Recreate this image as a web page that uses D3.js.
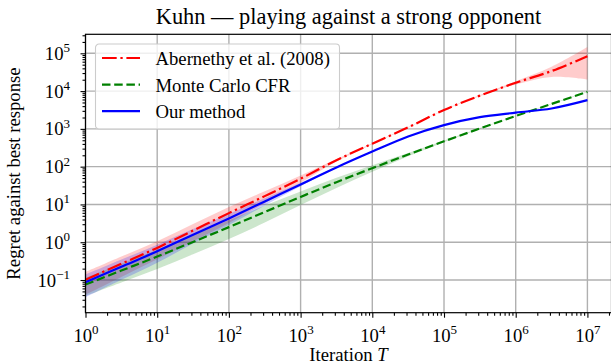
<!DOCTYPE html>
<html>
<head>
<meta charset="utf-8">
<script src="https://cdn.jsdelivr.net/npm/d3@7"></script>
<style>
  body { margin: 0; background: #fff; }
  svg text { font-family: "Liberation Serif", "Times New Roman", serif; fill: #000; }
</style>
</head>
<body>
<script>
// Iterations T (half decades) and the three methods, mean and std of the regret
var iterations = [1, 3.162, 10, 31.62, 100, 316.2, 1000, 3162, 10000, 31623, 100000, 316228, 1000000, 3162278, 10000000];

var aberMean = [0.102, 0.269, 0.708, 2.04, 5.89, 16.6, 47.9, 148, 407, 1096, 3160, 7590, 16600, 33900, 83200];
var aberSd   = [0.061, 0.148, 0.354, 0.98, 2.65, 5.8, 10.5, 11.8, 12.2, 21.9, 63, 300, 1660, 10200, 63000];

var mccfrMean = [0.0759, 0.178, 0.417, 1.02, 2.51, 6.31, 15.8, 38.9, 91.2, 209, 468, 1023, 2188, 4571, 9550];
var mccfrSd   = [0.038, 0.092, 0.22, 0.54, 1.3, 3.0, 6.2, 11.7, 18.2, 20.9, 23.4, 30, 44, 92, 191];

var oursMean = [0.087, 0.224, 0.575, 1.58, 4.27, 12.0, 33.9, 95.5, 251, 631, 1259, 2042, 2692, 3467, 5754];
var oursSd   = [0.052, 0.123, 0.288, 0.66, 1.41, 2.64, 3.39, 3.8, 5.0, 9.5, 18.9, 30.6, 40.4, 52, 115];

var seriesNames = ["Abernethy et al. (2008)", "Monte Carlo CFR", "Our method"];

// Major tick values and their exponents for labels
var xTickValues = [1, 10, 100, 1000, 10000, 100000, 1000000, 10000000];
var xTickExp = ["0", "1", "2", "3", "4", "5", "6", "7"];
var yTickValues = [0.1, 1, 10, 100, 1000, 10000, 100000];
var yTickExp = ["\u22121", "0", "1", "2", "3", "4", "5"];

var titleText = "Kuhn \u2014 playing against a strong opponent";

// Layout
var W = 611, H = 364;
var margin = {top: 34.3, left: 85.5},
    width = 611.5 - margin.left,
    height = 312.7 - margin.top;
var baseFont = 18.7;

var xScale = d3.scaleLog().domain([1, Math.pow(10, 7.336)]).range([0, width]),
    yScale = d3.scaleLog().domain([Math.pow(10, -1.865), Math.pow(10, 5.503)]).range([height, 0]);

var svg = d3.select("body").append("svg")
            .attr("width", W)
            .attr("height", H);

var g = svg.append("g")
           .attr("transform", "translate(" + margin.left + "," + margin.top + ")");

svg.append("defs")
   .append("clipPath")
   .attr("id", "clip")
   .append("rect")
   .attr("width", width)
   .attr("height", height);

// minor ticks 2..9 per decade
function minorTicks(scale) {
  var dom = scale.domain(), out = [];
  for (var k = Math.floor(Math.log10(dom[0])); k <= Math.ceil(Math.log10(dom[1])); k++) {
    for (var m = 2; m <= 9; m++) {
      var v = m * Math.pow(10, k);
      if (v >= dom[0] && v <= dom[1]) out.push(v);
    }
  }
  return out;
}

// Grid
g.append("g")
 .attr("class", "grid")
 .selectAll("line.gx")
 .data(xTickValues)
 .enter()
 .append("line")
 .attr("x1", d => xScale(d)).attr("x2", d => xScale(d))
 .attr("y1", 0).attr("y2", height)
 .attr("stroke", "#b0b0b0")
 .attr("stroke-width", 1.4);

g.append("g")
 .attr("class", "grid")
 .selectAll("line.gy")
 .data(yTickValues)
 .enter()
 .append("line")
 .attr("x1", 0).attr("x2", width)
 .attr("y1", d => yScale(d)).attr("y2", d => yScale(d))
 .attr("stroke", "#b0b0b0")
 .attr("stroke-width", 1.4);

// Series
var series = [
  {name: seriesNames[0], color: "#ff0000", dash: "14.7,3.7,2.3,3.7", mean: aberMean, sd: aberSd},
  {name: seriesNames[1], color: "#008000", dash: "8.5,3.7", mean: mccfrMean, sd: mccfrSd},
  {name: seriesNames[2], color: "#0000ff", dash: null, mean: oursMean, sd: oursSd}
];
series.forEach(s => {
  s.values = iterations.map((t, i) => ({t: t, m: s.mean[i], s: s.sd[i]}));
});

var line = d3.line()
    .x(d => xScale(d.t))
    .y(d => yScale(d.m))
    .curve(d3.curveCatmullRom.alpha(0.5));

var band = d3.area()
    .x(d => xScale(d.t))
    .y0(d => yScale(Math.max(d.m - d.s, 1e-3)))
    .y1(d => yScale(d.m + d.s))
    .curve(d3.curveCatmullRom.alpha(0.5));

var plot = g.append("g").attr("clip-path", "url(#clip)");

plot.selectAll(".band")
    .data(series)
    .enter()
    .append("path")
    .attr("class", "band")
    .attr("d", d => band(d.values))
    .attr("fill", d => d.color)
    .attr("fill-opacity", 0.2)
    .attr("stroke", "none");

plot.selectAll(".line")
    .data(series)
    .enter()
    .append("path")
    .attr("class", "line")
    .attr("d", d => line(d.values))
    .attr("fill", "none")
    .attr("stroke", d => d.color)
    .attr("stroke-width", 2.2)
    .attr("stroke-dasharray", d => d.dash);

// Axes: major + minor ticks
var xAxis = d3.axisBottom(xScale).tickValues(xTickValues).tickSize(5).tickPadding(11).tickFormat(""),
    xAxisMinor = d3.axisBottom(xScale).tickValues(minorTicks(xScale)).tickSize(3).tickFormat(""),
    yAxis = d3.axisLeft(yScale).tickValues(yTickValues).tickSize(5).tickPadding(10.5).tickFormat(""),
    yAxisMinor = d3.axisLeft(yScale).tickValues(minorTicks(yScale)).tickSize(3).tickFormat("");

function styleAxis(sel) {
  sel.select(".domain").remove();
  sel.selectAll(".tick line").attr("stroke", "#000").attr("stroke-width", 1.1);
}

var gx = g.append("g").attr("transform", "translate(0," + height + ")").call(xAxis).call(styleAxis);
g.append("g").attr("transform", "translate(0," + height + ")").call(xAxisMinor).call(styleAxis);
var gy = g.append("g").call(yAxis).call(styleAxis);
g.append("g").call(yAxisMinor).call(styleAxis);

// tick labels 10^k with superscript
function powerLabel(sel, exps) {
  sel.selectAll(".tick text")
     .each(function(d, i) {
       var t = d3.select(this);
       t.text(null)
        .attr("font-size", baseFont)
        .attr("font-family", null);
       t.append("tspan").text("10");
       t.append("tspan").attr("font-size", 13).attr("dy", -7.5).text(exps[i]);
     });
}
powerLabel(gx, xTickExp);
powerLabel(gy, yTickExp);
gx.selectAll(".tick text").attr("dy", "0.71em");

// Frame
g.append("rect")
 .attr("width", width)
 .attr("height", height)
 .attr("fill", "none")
 .attr("stroke", "#000")
 .attr("stroke-width", 1.2);

// Title and axis labels
svg.append("text")
   .attr("x", margin.left + width / 2)
   .attr("y", 24)
   .attr("text-anchor", "middle")
   .attr("font-size", 22.4)
   .text(titleText);

var xl = svg.append("text")
   .attr("x", margin.left + width / 2)
   .attr("y", 361)
   .attr("text-anchor", "middle")
   .attr("font-size", baseFont);
xl.append("tspan").text("Iteration ");
xl.append("tspan").attr("font-style", "italic").text("T");

svg.append("text")
   .attr("transform", "translate(20," + (margin.top + height / 2) + ") rotate(-90)")
   .attr("text-anchor", "middle")
   .attr("font-size", baseFont)
   .text("Regret against best response");

// Legend
var legend = svg.append("g").attr("transform", "translate(95.5,44)");
legend.append("rect")
      .attr("width", 244)
      .attr("height", 85)
      .attr("rx", 3.5)
      .attr("fill", "#fff")
      .attr("fill-opacity", 0.8)
      .attr("stroke", "#cccccc")
      .attr("stroke-width", 1.1);

var item = legend.selectAll(".item")
      .data(series)
      .enter()
      .append("g")
      .attr("class", "item")
      .attr("transform", (d, i) => "translate(0," + (14 + i * 26.6) + ")");

item.append("line")
    .attr("x1", 6.5).attr("x2", 44.5)
    .attr("y1", 0).attr("y2", 0)
    .attr("stroke", d => d.color)
    .attr("stroke-width", 2.2)
    .attr("stroke-dasharray", d => d.dash);

item.append("text")
    .attr("x", 60)
    .attr("y", 7)
    .attr("font-size", baseFont)
    .text(d => d.name);
</script>
</body>
</html>
